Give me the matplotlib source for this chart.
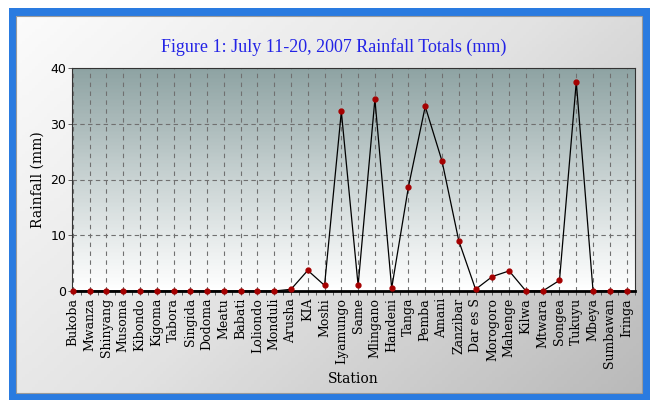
import numpy as np
import matplotlib
matplotlib.use("Agg")
import matplotlib.pyplot as plt
from matplotlib.patches import Rectangle
from matplotlib.colors import LinearSegmentedColormap

stations = ["Bukoba", "Mwanza", "Shinyang", "Musoma", "Kibondo", "Kigoma", "Tabora",
            "Singida", "Dodoma", "Meatu", "Babati", "Loliondo", "Monduli", "Arusha",
            "KIA", "Moshi", "Lyamungo", "Same", "Mlingano", "Handeni", "Tanga", "Pemba",
            "Amani", "Zanzibar", "Dar es S", "Morogoro", "Mahenge", "Kilwa", "Mtwara",
            "Songea", "Tukuyu", "Mbeya", "Sumbawan", "Iringa"]
rainfall = [0, 0, 0, 0, 0, 0, 0, 0, 0, 0, 0, 0, 0, 0.3,
            3.7, 1.0, 32.2, 1.0, 34.4, 0.5, 18.7, 33.1,
            23.3, 9.0, 0.3, 2.6, 3.6, 0, 0,
            1.9, 37.5, 0, 0, 0]
yticks = [0, 10, 20, 30, 40]

W, H = 650, 400
fig = plt.figure(figsize=(6.5, 4.0), dpi=100)
fig.patch.set_facecolor("white")

# background frame
bg = fig.add_axes([0, 0, 1, 1], zorder=-10)
bg.set_xlim(0, W)
bg.set_ylim(H, 0)
bg.axis("off")
bg.add_patch(Rectangle((9, 8), W - 9, H - 8, facecolor="#2a7be0", edgecolor="none"))
gxs = np.linspace(16, 642, 201)
gys = np.linspace(16, 393, 121)
GX, GY = np.meshgrid((gxs[:-1] + gxs[1:]) / 2, (gys[:-1] + gys[1:]) / 2)
g = 0.6 * (GX - 16) / 626 + 0.4 * (GY - 16) / 377
panel_cmap = LinearSegmentedColormap.from_list("panel", ["#fbfbfb", "#e2e2e2", "#b9b9b9"])
bg.pcolormesh(gxs, gys, g, cmap=panel_cmap, shading="flat", zorder=1, rasterized=False)
bg.add_patch(Rectangle((16, 16), 626, 377, facecolor="none", edgecolor="#9a9a9a", lw=0.8, zorder=2))

# main axes
x0, x1, y0, y1 = 72, 635, 68, 291
ax = fig.add_axes([x0 / W, 1 - y1 / H, (x1 - x0) / W, (y1 - y0) / H])
x = np.arange(len(stations))
xl = (-0.05, len(stations) - 1 + 0.05)

plot_cmap = LinearSegmentedColormap.from_list("plot", ["#ffffff", "#c9d3d3", "#8ea3a3"])
yedges = np.linspace(0, 40, 161)
ycent = (yedges[:-1] + yedges[1:]) / 2
ax.pcolormesh([xl[0] - 1, xl[1] + 1], yedges, (ycent / 40).reshape(-1, 1),
              cmap=plot_cmap, shading="flat", zorder=0)
ax.set_xlim(*xl)
ax.set_ylim(0, 40)

for xi in x:
    ax.axvline(xi, color="#707070", lw=0.8, ls=(0, (4, 4)), zorder=1)
for yv in yticks[1:-1]:
    ax.axhline(yv, color="#707070", lw=0.8, ls=(0, (4, 3)), zorder=1)

ax.plot(x, rainfall, color="black", lw=0.9, zorder=3)
ax.plot(x, rainfall, "o", color="#a50000", ms=3.5, zorder=4, clip_on=False)

for s in ["top", "right", "left"]:
    ax.spines[s].set_color("#333333")
    ax.spines[s].set_linewidth(0.8)
ax.spines["bottom"].set_color("black")
ax.spines["bottom"].set_linewidth(2.0)

serif = "DejaVu Serif"
ax.set_yticks(yticks)
ax.set_yticklabels([str(v) for v in yticks], fontfamily="DejaVu Sans", fontsize=9)
ax.set_xticks(x)
ax.set_xticklabels(stations, rotation=90, fontfamily=serif, fontsize=9)
ax.set_xticks(x + 0.5, minor=True)
ax.tick_params(axis="x", which="both", length=3, width=0.6, color="#444444", pad=2)
ax.tick_params(axis="y", length=3, width=0.6, color="#444444", pad=1)

ax.set_ylabel("Rainfall (mm)", fontfamily=serif, fontsize=10, labelpad=4)
ax.set_xlabel("Station", fontfamily=serif, fontsize=10, labelpad=3)

fig.text(334 / W, 1 - 47 / H, "Figure 1: July 11-20, 2007 Rainfall Totals (mm)",
         color="#2323e6", fontfamily="Liberation Serif", fontsize=13, ha="center", va="center")

fig.savefig("out.png", dpi=100)
